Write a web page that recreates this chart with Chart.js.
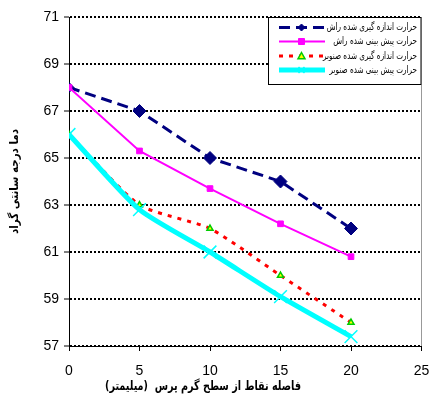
<!DOCTYPE html>
<html>
<head>
<meta charset="utf-8">
<script src="https://cdn.jsdelivr.net/npm/chart.js@4"></script>
<style>
html,body{margin:0;padding:0;background:#fff;}
canvas{display:block;}
</style>
</head>
<body>
<canvas id="c" width="432" height="403"></canvas>
<script>
// ---- data ----
const distances = [0, 5, 10, 15, 20];
const measuredBeech = [68, 67, 65, 64, 62];
const predictedBeech = [68, 65.3, 63.7, 62.2, 60.8];
const measuredPoplar = [66, 63, 62, 60, 58];
const predictedPoplar = [66, 62.8, 61.0, 59.1, 57.4];
const seriesNames = [
  'حرارت اندازه گیری شده راش',
  'حرارت پیش بینی شده راش',
  'حرارت اندازه گیری شده صنوبر',
  'حرارت پیش بینی شده صنوبر'
];
const xMin = 0, xMax = 25, xStep = 5;
const yMin = 57, yMax = 71, yStep = 2;
const xTitle = 'فاصله نقاط از سطح گرم پرس  (میلیمتر)';
const yTitle = 'دما درجه سانتی گراد';

const toPts = arr => distances.map((d, i) => ({x: d, y: arr[i]}));
const AR = "'DejaVu Sans'";

// draw text of a given font size, squeezed horizontally to a target width
function drawFitted(ctx, text, weight, size, targetW, x, y, align) {
  ctx.save();
  ctx.font = weight + ' ' + size + 'px ' + AR;
  ctx.direction = 'rtl';
  ctx.textBaseline = 'middle';
  const w = ctx.measureText(text).width;
  const sx = Math.min(1, targetW / w);
  ctx.translate(x, y);
  ctx.scale(sx, 1);
  ctx.textAlign = align;
  ctx.fillText(text, 0, 0);
  ctx.restore();
}

const overlay = {
  id: 'overlay',
  afterDraw(chart) {
    const ctx = chart.ctx;
    const ca = chart.chartArea;
    ctx.save();
    // legend box
    const lx = 268, ly = ca.top, lw = ca.right - 268, lh = 68;
    ctx.fillStyle = '#fff';
    ctx.fillRect(lx, ly, lw, lh);
    ctx.strokeStyle = '#000';
    ctx.lineWidth = 1;
    ctx.setLineDash([]);
    ctx.strokeRect(lx + 0.5, ly + 0.5, lw - 1, lh - 1);
    const rows = [27.5, 41.5, 56, 70];
    ctx.font = 'normal 10px ' + AR;
    const refW = ctx.measureText(seriesNames[2]).width;
    const sq = Math.min(1, 94 / refW);
    chart.data.datasets.forEach((ds, i) => {
      const y = rows[i];
      ctx.save();
      ctx.strokeStyle = ds.borderColor;
      ctx.lineWidth = ds.borderWidth;
      ctx.setLineDash(ds.borderDash || []);
      ctx.beginPath();
      ctx.moveTo(279, y);
      ctx.lineTo(325, y);
      ctx.stroke();
      ctx.restore();
      // marker
      const cx = 301.5;
      ctx.save();
      ctx.setLineDash([]);
      ctx.fillStyle = ds.pointBackgroundColor;
      ctx.strokeStyle = ds.pointBorderColor;
      ctx.lineWidth = ds.pointBorderWidth;
      ctx.beginPath();
      if (i === 0) {
        const r = 3.5;
        ctx.moveTo(cx - r, y); ctx.lineTo(cx, y - r); ctx.lineTo(cx + r, y); ctx.lineTo(cx, y + r); ctx.closePath();
        ctx.fill(); ctx.stroke();
      } else if (i === 1) {
        ctx.rect(cx - 3, y - 3, 6, 6); ctx.fill(); ctx.stroke();
      } else if (i === 2) {
        const r = 3.5;
        ctx.moveTo(cx, y - r); ctx.lineTo(cx + r, y + r * 0.8); ctx.lineTo(cx - r, y + r * 0.8); ctx.closePath();
        ctx.fill(); ctx.stroke();
      } else {
        const r = 3;
        ctx.moveTo(cx - r, y - r); ctx.lineTo(cx + r, y + r);
        ctx.moveTo(cx + r, y - r); ctx.lineTo(cx - r, y + r);
        ctx.stroke();
      }
      ctx.restore();
      ctx.fillStyle = '#000';
      ctx.save();
      ctx.font = 'normal 10px ' + AR;
      ctx.direction = 'rtl';
      ctx.textBaseline = 'middle';
      ctx.textAlign = 'right';
      ctx.translate(417, y);
      ctx.scale(sq, 1);
      ctx.fillText(seriesNames[i], 0, 0);
      ctx.restore();
    });
    // axis titles
    ctx.fillStyle = '#000';
    drawFitted(ctx, xTitle, 'bold', 13, 196, 203, 387, 'center');
    ctx.save();
    ctx.translate(15, (ca.top + ca.bottom) / 2);
    ctx.rotate(-Math.PI / 2);
    drawFitted(ctx, yTitle, 'bold', 12, 105, 0, 0, 'center');
    ctx.restore();
    ctx.restore();
  }
};

const bgPlugin = {
  id: 'bg',
  beforeDraw(chart) {
    const ctx = chart.ctx;
    ctx.save();
    ctx.fillStyle = '#fff';
    ctx.fillRect(0, 0, chart.width, chart.height);
    ctx.restore();
  }
};

new Chart(document.getElementById('c'), {
  type: 'line',
  data: {
    datasets: [
      {
        label: seriesNames[0], data: toPts(measuredBeech),
        borderColor: '#000080', borderWidth: 3, borderDash: [11, 6],
        pointStyle: 'rectRot', pointRadius: [5, 6.5, 6.5, 6.5, 6.5],
        pointBackgroundColor: '#000080', pointBorderColor: '#000080', pointBorderWidth: 1,
        tension: 0, order: 4
      },
      {
        label: seriesNames[1], data: toPts(predictedBeech),
        borderColor: '#FF00FF', borderWidth: 2,
        pointStyle: 'rect', pointRadius: 4,
        pointBackgroundColor: '#FF00FF', pointBorderColor: '#FF00FF', pointBorderWidth: 1,
        tension: 0, order: 3
      },
      {
        label: seriesNames[2], data: toPts(measuredPoplar),
        borderColor: '#FF0000', borderWidth: 3, borderDash: [4, 6],
        pointStyle: 'triangle', pointRadius: 3.5,
        pointBackgroundColor: '#FFFF00', pointBorderColor: '#00CC00', pointBorderWidth: 1.5,
        tension: 0.2, order: 2
      },
      {
        label: seriesNames[3], data: toPts(predictedPoplar),
        borderColor: '#00FFFF', borderWidth: 5,
        pointStyle: 'crossRot', pointRadius: 9,
        pointBackgroundColor: '#00FFFF', pointBorderColor: '#00FFFF', pointBorderWidth: 1.5,
        tension: 0.2, order: 1
      }
    ]
  },
  options: {
    responsive: false,
    animation: false,
    devicePixelRatio: 1,
    layout: {padding: {left: 0, top: 17, right: 7, bottom: 0}},
    plugins: {legend: {display: false}, tooltip: {enabled: false}},
    scales: {
      x: {
        type: 'linear', min: xMin, max: xMax,
        ticks: {stepSize: xStep, color: '#000', font: {family: "'Liberation Sans'", size: 14}, padding: 12, maxRotation: 0},
        grid: {
          drawOnChartArea: true,
          color: c => (c.tick && c.tick.value === xMax) ? '#999' : 'rgba(0,0,0,0)',
          lineWidth: 1, tickColor: '#000', tickLength: 5, tickWidth: 1
        },
        border: {display: true, color: '#000', width: 1},
        afterFit: s => { s.height = 57; s.paddingLeft = 0; s.paddingRight = 0; }
      },
      y: {
        min: yMin, max: yMax,
        ticks: {stepSize: yStep, color: '#000', font: {family: "'Liberation Sans'", size: 14}, padding: 5},
        grid: {
          color: '#000', lineWidth: 2, tickColor: '#000', tickLength: 5, tickWidth: 1, tickBorderDash: []
        },
        border: {display: true, color: '#000', width: 1, dash: [2, 2]},
        afterFit: s => { s.width = 69; s.paddingTop = 0; s.paddingBottom = 0; }
      }
    }
  },
  plugins: [bgPlugin, overlay]
});
</script>
</body>
</html>
